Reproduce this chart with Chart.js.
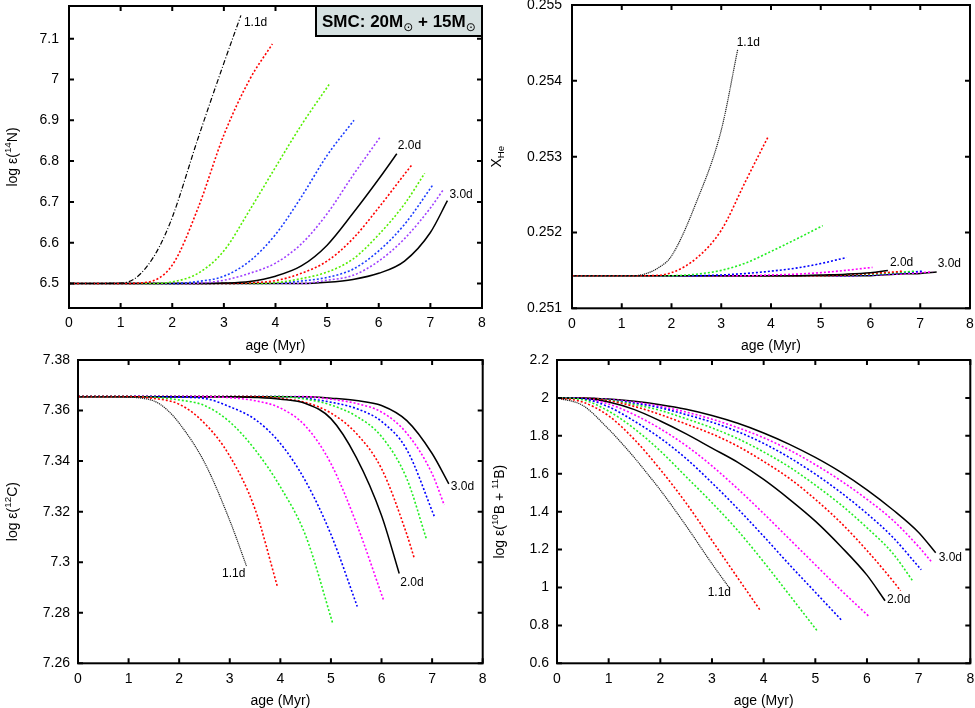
<!DOCTYPE html>
<html>
<head>
<meta charset="utf-8">
<script src="https://cdn.jsdelivr.net/npm/chart.js@4.4.1/dist/chart.umd.min.js"></script>
<style>
  html, body { margin: 0; padding: 0; background: #fff; }
  #page { position: relative; width: 975px; height: 708px; overflow: hidden; background: #fff; }
  canvas { position: absolute; }
</style>
</head>
<body>
<div id="page">
  <canvas id="c14n" width="487" height="355" style="left:0px;top:0px"></canvas>
  <canvas id="cHe" width="488" height="355" style="left:487px;top:0px"></canvas>
  <canvas id="c12c" width="487" height="355" style="left:0px;top:353px"></canvas>
  <canvas id="cB" width="488" height="355" style="left:487px;top:353px"></canvas>
</div>
<script>
// --- data ---
const periods = ['1.1d', '1.2d', '1.4d', '1.6d', '1.8d', '2.0d', '2.2d', '2.4d', '2.6d', '2.8d', '3.0d'];

// ages (Myr) sampled along each model track
const ages = [
  [0, 0.5, 1, 1.25, 1.5, 1.75, 2, 2.5, 3, 3.33],
  [0, 0.5, 1, 1.5, 2, 2.5, 3, 3.5, 3.94],
  [0, 0.5, 1, 1.5, 2, 2.5, 3, 3.5, 4, 4.5, 5.04],
  [0, 0.5, 1, 1.5, 2, 2.5, 3, 3.5, 4, 4.5, 5, 5.52],
  [0, 0.5, 1, 1.5, 2, 2.5, 3, 3.5, 4, 4.5, 5, 5.5, 6.04],
  [0, 0.5, 1, 1.5, 2, 2.5, 3, 3.5, 4, 4.5, 5, 5.5, 6, 6.35],
  [0, 0.5, 1, 1.5, 2, 2.5, 3, 3.5, 4, 4.5, 5, 5.5, 6, 6.5, 6.65],
  [0, 0.5, 1, 1.5, 2, 2.5, 3, 3.5, 4, 4.5, 5, 5.5, 6, 6.5, 6.89],
  [0, 0.5, 1, 1.5, 2, 2.5, 3, 3.5, 4, 4.5, 5, 5.5, 6, 6.5, 7.05],
  [0, 0.5, 1, 1.5, 2, 2.5, 3, 3.5, 4, 4.5, 5, 5.5, 6, 6.5, 7, 7.24],
  [0, 0.5, 1, 1.5, 2, 2.5, 3, 3.5, 4, 4.5, 5, 5.5, 6, 6.5, 7, 7.33]
];

const logN14 = [
  [6.5, 6.5, 6.501, 6.51, 6.54, 6.59, 6.662, 6.856, 7.04, 7.157],
  [6.5, 6.5, 6.5, 6.503, 6.545, 6.685, 6.864, 7.0, 7.087],
  [6.5, 6.5, 6.5, 6.5, 6.504, 6.525, 6.58, 6.68, 6.785, 6.888, 6.988],
  [6.5, 6.5, 6.5, 6.5, 6.5, 6.505, 6.518, 6.555, 6.62, 6.712, 6.814, 6.9],
  [6.5, 6.5, 6.5, 6.5, 6.5, 6.501, 6.508, 6.525, 6.55, 6.597, 6.671, 6.765, 6.861],
  [6.5, 6.5, 6.5, 6.5, 6.5, 6.5, 6.501, 6.505, 6.518, 6.543, 6.594, 6.672, 6.756, 6.818],
  [6.5, 6.5, 6.5, 6.5, 6.5, 6.5, 6.5, 6.502, 6.507, 6.525, 6.555, 6.61, 6.686, 6.768, 6.792],
  [6.5, 6.5, 6.5, 6.5, 6.5, 6.5, 6.5, 6.5, 6.502, 6.512, 6.528, 6.56, 6.62, 6.695, 6.77],
  [6.5, 6.5, 6.5, 6.5, 6.5, 6.5, 6.5, 6.5, 6.501, 6.506, 6.515, 6.535, 6.58, 6.645, 6.742],
  [6.5, 6.5, 6.5, 6.5, 6.5, 6.5, 6.5, 6.5, 6.5, 6.5, 6.508, 6.52, 6.555, 6.61, 6.685, 6.728],
  [6.5, 6.5, 6.5, 6.5, 6.5, 6.5, 6.5, 6.5, 6.5, 6.5, 6.503, 6.51, 6.525, 6.555, 6.625, 6.703]
];

const xHe = [
  [0.25143, 0.25143, 0.25143, 0.25143, 0.25146, 0.25154, 0.25169, 0.2524, 0.25335, 0.25441],
  [0.25143, 0.25143, 0.25143, 0.25143, 0.25147, 0.25166, 0.25203, 0.25269, 0.25326],
  [0.25143, 0.25143, 0.25143, 0.25143, 0.25143, 0.25145, 0.2515, 0.2516, 0.25175, 0.25191, 0.25209],
  [0.25143, 0.25143, 0.25143, 0.25143, 0.25143, 0.25143, 0.25144, 0.25146, 0.25149, 0.25153, 0.25159, 0.25167],
  [0.25143, 0.25143, 0.25143, 0.25143, 0.25143, 0.25143, 0.25143, 0.25143, 0.25144, 0.25145, 0.25147, 0.2515, 0.25154],
  [0.25143, 0.25143, 0.25143, 0.25143, 0.25143, 0.25143, 0.25143, 0.25143, 0.25143, 0.25143, 0.25144, 0.25145, 0.25147, 0.2515],
  [0.25143, 0.25143, 0.25143, 0.25143, 0.25143, 0.25143, 0.25143, 0.25143, 0.25143, 0.25143, 0.25143, 0.25144, 0.25146, 0.25148, 0.25149],
  [0.25143, 0.25143, 0.25143, 0.25143, 0.25143, 0.25143, 0.25143, 0.25143, 0.25143, 0.25143, 0.25143, 0.25144, 0.25145, 0.25147, 0.25149],
  [0.25143, 0.25143, 0.25143, 0.25143, 0.25143, 0.25143, 0.25143, 0.25143, 0.25143, 0.25143, 0.25143, 0.25143, 0.25144, 0.25146, 0.25149],
  [0.25143, 0.25143, 0.25143, 0.25143, 0.25143, 0.25143, 0.25143, 0.25143, 0.25143, 0.25143, 0.25143, 0.25143, 0.25144, 0.25145, 0.25147, 0.25148],
  [0.25143, 0.25143, 0.25143, 0.25143, 0.25143, 0.25143, 0.25143, 0.25143, 0.25143, 0.25143, 0.25143, 0.25143, 0.25143, 0.25145, 0.25146, 0.25148]
];

const logC12 = [
  [7.3655, 7.3655, 7.3653, 7.3649, 7.3638, 7.3605, 7.355, 7.3395, 7.3165, 7.2985],
  [7.3655, 7.3655, 7.3655, 7.3648, 7.3625, 7.355, 7.342, 7.321, 7.2905],
  [7.3655, 7.3655, 7.3655, 7.3652, 7.3642, 7.362, 7.3555, 7.3445, 7.3298, 7.3105, 7.2755],
  [7.3655, 7.3655, 7.3655, 7.3655, 7.3653, 7.3648, 7.3615, 7.3565, 7.347, 7.332, 7.311, 7.2825],
  [7.3655, 7.3655, 7.3655, 7.3655, 7.3655, 7.3655, 7.3651, 7.3639, 7.361, 7.3538, 7.339, 7.3155, 7.285],
  [7.3655, 7.3655, 7.3655, 7.3655, 7.3655, 7.3655, 7.3655, 7.3652, 7.3645, 7.3628, 7.3568, 7.3415, 7.3185, 7.2955],
  [7.3655, 7.3655, 7.3655, 7.3655, 7.3655, 7.3655, 7.3655, 7.3655, 7.3648, 7.3632, 7.359, 7.351, 7.337, 7.311, 7.3014],
  [7.3655, 7.3655, 7.3655, 7.3655, 7.3655, 7.3655, 7.3655, 7.3655, 7.3655, 7.3645, 7.3622, 7.3578, 7.3497, 7.333, 7.309],
  [7.3655, 7.3655, 7.3655, 7.3655, 7.3655, 7.3655, 7.3655, 7.3655, 7.3655, 7.3648, 7.3633, 7.3608, 7.3557, 7.3445, 7.3178],
  [7.3655, 7.3655, 7.3655, 7.3655, 7.3655, 7.3655, 7.3655, 7.3655, 7.3655, 7.3655, 7.3645, 7.3628, 7.3594, 7.351, 7.335, 7.3226],
  [7.3655, 7.3655, 7.3655, 7.3655, 7.3655, 7.3655, 7.3655, 7.3655, 7.3655, 7.3655, 7.3649, 7.364, 7.362, 7.356, 7.343, 7.331]
];

const logB = [
  [2.0, 1.96, 1.835, 1.762, 1.684, 1.6, 1.514, 1.325, 1.125, 1.0],
  [2.0, 1.978, 1.905, 1.78, 1.622, 1.445, 1.248, 1.05, 0.877],
  [2.0, 1.99, 1.93, 1.837, 1.72, 1.584, 1.447, 1.3, 1.135, 0.96, 0.77],
  [2.0, 1.995, 1.953, 1.877, 1.788, 1.68, 1.552, 1.415, 1.27, 1.12, 0.975, 0.824],
  [2.0, 1.997, 1.968, 1.911, 1.837, 1.748, 1.641, 1.52, 1.39, 1.255, 1.12, 0.985, 0.847],
  [2.0, 1.998, 1.978, 1.938, 1.878, 1.81, 1.735, 1.66, 1.57, 1.465, 1.35, 1.215, 1.065, 0.93],
  [2.0, 1.999, 1.985, 1.955, 1.912, 1.862, 1.81, 1.745, 1.665, 1.575, 1.465, 1.34, 1.195, 1.035, 0.983],
  [2.0, 1.999, 1.988, 1.965, 1.934, 1.89, 1.842, 1.785, 1.715, 1.635, 1.54, 1.435, 1.315, 1.18, 1.033],
  [2.0, 1.999, 1.99, 1.972, 1.948, 1.912, 1.872, 1.822, 1.76, 1.685, 1.598, 1.5, 1.39, 1.265, 1.093],
  [2.0, 1.999, 1.992, 1.977, 1.956, 1.925, 1.888, 1.843, 1.79, 1.725, 1.648, 1.562, 1.465, 1.355, 1.215, 1.138],
  [2.0, 2.0, 1.994, 1.982, 1.964, 1.94, 1.907, 1.866, 1.815, 1.755, 1.686, 1.607, 1.515, 1.41, 1.29, 1.183]
];

// tick values and labels
const ageTicks = [0, 1, 2, 3, 4, 5, 6, 7, 8];
const ageTickLabels = ['0', '1', '2', '3', '4', '5', '6', '7', '8'];
const n14Ticks = [6.5, 6.6, 6.7, 6.8, 6.9, 7.0, 7.1];
const n14TickLabels = ['6.5', '6.6', '6.7', '6.8', '6.9', '7', '7.1'];
const heTicks = [0.251, 0.252, 0.253, 0.254, 0.255];
const heTickLabels = ['0.251', '0.252', '0.253', '0.254', '0.255'];
const c12Ticks = [7.26, 7.28, 7.30, 7.32, 7.34, 7.36, 7.38];
const c12TickLabels = ['7.26', '7.28', '7.3', '7.32', '7.34', '7.36', '7.38'];
const bTicks = [0.6, 0.8, 1.0, 1.2, 1.4, 1.6, 1.8, 2.0, 2.2];
const bTickLabels = ['0.6', '0.8', '1', '1.2', '1.4', '1.6', '1.8', '2', '2.2'];

// --- styling ---
const FONT = "'Liberation Sans', Arial, Helvetica, sans-serif";
Chart.defaults.font.family = FONT;
Chart.defaults.color = '#000';

const DOT = [2, 2];
const stylesTop = [
  { color: '#000000', width: 1.2, dash: [5, 2, 1, 2] },
  { color: '#ff0000', width: 1.6, dash: DOT },
  { color: '#55ee00', width: 1.6, dash: DOT },
  { color: '#1a3cff', width: 1.6, dash: DOT },
  { color: '#a040ff', width: 1.6, dash: DOT },
  { color: '#000000', width: 1.5, dash: [] },
  { color: '#ff0000', width: 1.6, dash: DOT },
  { color: '#55ee00', width: 1.6, dash: DOT },
  { color: '#1a3cff', width: 1.6, dash: DOT },
  { color: '#a040ff', width: 1.6, dash: DOT },
  { color: '#000000', width: 1.5, dash: [] }
];
const stylesOther = [
  { color: '#222222', width: 1.2, dash: [1.2, 0.8] },
  { color: '#ff0000', width: 1.6, dash: DOT },
  { color: '#22ee22', width: 1.6, dash: DOT },
  { color: '#0000ff', width: 1.6, dash: DOT },
  { color: '#ff00ff', width: 1.6, dash: DOT },
  { color: '#000000', width: 1.5, dash: [] },
  { color: '#ff0000', width: 1.6, dash: DOT },
  { color: '#22ee22', width: 1.6, dash: DOT },
  { color: '#0000ff', width: 1.6, dash: DOT },
  { color: '#ff00ff', width: 1.6, dash: DOT },
  { color: '#000000', width: 1.5, dash: [] }
];

// draws a label made of pieces with superscripts / subscripts
function drawRich(ctx, parts, cx, cy, size, rotate, bold) {
  const w = bold ? 'bold ' : '';
  const segs = parts.map(p => {
    const fs = p.fs || ((p.sup || p.sub) ? size * 0.7 : size);
    const fam = p.fam || FONT;
    const font = (p.fam ? '' : w) + fs + 'px ' + fam;
    ctx.font = font;
    return { t: p.t, font, dy: p.dy !== undefined ? p.dy : (p.sup ? -size * 0.42 : p.sub ? size * 0.28 : 0), w: ctx.measureText(p.t).width };
  });
  const total = segs.reduce((s, p) => s + p.w, 0);
  ctx.save();
  ctx.translate(cx, cy);
  if (rotate) ctx.rotate(-Math.PI / 2);
  ctx.fillStyle = '#000';
  ctx.textBaseline = 'alphabetic';
  ctx.textAlign = 'left';
  let x = rotate ? -total / 2 : 0;
  segs.forEach(s => {
    ctx.font = s.font;
    ctx.fillText(s.t, x, s.dy + (rotate ? size * 0.36 : 0));
    x += s.w;
  });
  ctx.restore();
}

// frame, inward tick marks, y title, curve tags and the legend box
const framePlugin = {
  id: 'frame',
  afterDatasetsDraw(chart, args, opts) {
    const { ctx, chartArea: a, scales } = chart;
    const sx = scales.x, sy = scales.y;
    ctx.save();
    ctx.strokeStyle = '#000';
    ctx.lineWidth = 2;
    ctx.setLineDash([]);
    ctx.beginPath();
    sx.ticks.forEach(t => {
      const px = sx.getPixelForValue(t.value);
      ctx.moveTo(px, a.bottom); ctx.lineTo(px, a.bottom - 5);
      ctx.moveTo(px, a.top); ctx.lineTo(px, a.top + 5);
    });
    sy.ticks.forEach(t => {
      const py = sy.getPixelForValue(t.value);
      ctx.moveTo(a.left, py); ctx.lineTo(a.left + 5, py);
      ctx.moveTo(a.right, py); ctx.lineTo(a.right - 5, py);
    });
    ctx.stroke();
    ctx.strokeRect(a.left, a.top, a.right - a.left, a.bottom - a.top);

    drawRich(ctx, opts.yTitle, opts.yTitleX, (a.top + a.bottom) / 2, 14, true);

    ctx.font = '12px ' + FONT;
    ctx.fillStyle = '#000';
    ctx.textBaseline = 'middle';
    (opts.tags || []).forEach(tag => {
      const pts = chart.getDatasetMeta(tag.i).data;
      const end = pts[pts.length - 1];
      ctx.textAlign = tag.align || 'left';
      ctx.fillText(periods[tag.i], end.x + tag.dx, end.y + tag.dy);
    });

    if (opts.box) {
      const bx = a.right - 166, by = a.top, bw = 166, bh = 30;
      ctx.fillStyle = '#d6e1e1';
      ctx.fillRect(bx, by, bw, bh);
      ctx.lineWidth = 2;
      ctx.strokeRect(bx, by, bw, bh);
      drawRich(ctx, opts.box, bx + 6, by + 21, 17, false, true);
    }
    ctx.restore();
  }
};

function makePanel(id, values, styles, cfg) {
  const datasets = values.map((vals, i) => ({
    label: periods[i],
    data: vals.map((v, j) => ({ x: ages[i][j], y: v })),
    borderColor: styles[i].color,
    borderWidth: styles[i].width,
    borderDash: styles[i].dash,
    pointRadius: 0,
    fill: false,
    cubicInterpolationMode: 'monotone'
  }));
  return new Chart(document.getElementById(id), {
    type: 'line',
    data: { datasets },
    options: {
      responsive: false,
      animation: false,
      events: [],
      layout: { padding: { left: 0, top: cfg.padTop, right: cfg.padRight, bottom: 0 } },
      plugins: {
        legend: { display: false },
        tooltip: { enabled: false },
        frame: { yTitle: cfg.yTitle, yTitleX: cfg.yTitleX, tags: cfg.tags, box: cfg.box }
      },
      scales: {
        x: {
          type: 'linear', min: 0, max: 8,
          afterBuildTicks: s => { s.ticks = ageTicks.map(v => ({ value: v })); },
          afterFit: s => { s.height = cfg.xHeight; s.paddingLeft = 0; s.paddingRight = 0; },
          ticks: { autoSkip: false, maxRotation: 0, padding: 7, font: { size: 14 }, callback: (v, i) => ageTickLabels[i] },
          grid: { display: false, drawTicks: false },
          border: { display: false },
          title: { display: true, text: 'age (Myr)', font: { size: 14, lineHeight: 1 }, padding: { top: 0, bottom: cfg.xTitlePad } }
        },
        y: {
          type: 'linear', min: cfg.yMin, max: cfg.yMax,
          afterBuildTicks: s => { s.ticks = cfg.yTicks.map(v => ({ value: v })); },
          afterFit: s => { s.width = cfg.yWidth; s.paddingTop = 0; s.paddingBottom = 0; },
          ticks: { autoSkip: false, padding: cfg.yPad, font: { size: 14 }, callback: (v, i) => cfg.yLabels[i] },
          grid: { display: false, drawTicks: false },
          border: { display: false }
        }
      }
    },
    plugins: [framePlugin]
  });
}

makePanel('c14n', logN14, stylesTop, {
  yMin: 6.44, yMax: 7.18, yTicks: n14Ticks, yLabels: n14TickLabels,
  padTop: 6, padRight: 5, yWidth: 69, xHeight: 47, xTitlePad: 2.3, yPad: 10,
  yTitleX: 12,
  yTitle: [{ t: 'log ε(' }, { t: '14', sup: true }, { t: 'N)' }],
  tags: [{ i: 0, dx: 3, dy: 7 }, { i: 5, dx: 1, dy: -8 }, { i: 10, dx: 2, dy: -6 }],
  box: [{ t: 'SMC: 20M' }, { t: '⊙', fs: 12, fam: "'DejaVu Sans'", dy: 3.5 }, { t: ' + 15M' }, { t: '⊙', fs: 12, fam: "'DejaVu Sans'", dy: 3.5 }]
});

makePanel('cHe', xHe, stylesOther, {
  yMin: 0.251, yMax: 0.255, yTicks: heTicks, yLabels: heTickLabels,
  padTop: 5, padRight: 5, yWidth: 85, xHeight: 46.7, xTitlePad: 2.3, yPad: 10,
  yTitleX: 8.5,
  yTitle: [{ t: 'X' }, { t: 'He', sub: true }],
  tags: [{ i: 0, dx: -1, dy: -7 }, { i: 5, dx: 2, dy: -8 }, { i: 10, dx: 1, dy: -8 }]
});

makePanel('c12c', logC12, stylesOther, {
  yMin: 7.26, yMax: 7.38, yTicks: c12Ticks, yLabels: c12TickLabels,
  padTop: 7, padRight: 4.3, yWidth: 78, xHeight: 44.7, xTitlePad: 0.3, yPad: 8,
  yTitleX: 12,
  yTitle: [{ t: 'log ε(' }, { t: '12', sup: true }, { t: 'C)' }],
  tags: [{ i: 0, dx: -1, dy: 8, align: 'right' }, { i: 5, dx: 1, dy: 9 }, { i: 10, dx: 2, dy: 3 }]
});

makePanel('cB', logB, stylesOther, {
  yMin: 0.6, yMax: 2.2, yTicks: bTicks, yLabels: bTickLabels,
  padTop: 7, padRight: 4.7, yWidth: 70, xHeight: 44.7, xTitlePad: 0.3, yPad: 8,
  yTitleX: 12,
  yTitle: [{ t: 'log ε(' }, { t: '10', sup: true }, { t: 'B + ' }, { t: '11', sup: true }, { t: 'B)' }],
  tags: [{ i: 0, dx: 2, dy: 5, align: 'right' }, { i: 5, dx: 2, dy: -1 }, { i: 10, dx: 3, dy: 5 }]
});
</script>
</body>
</html>
